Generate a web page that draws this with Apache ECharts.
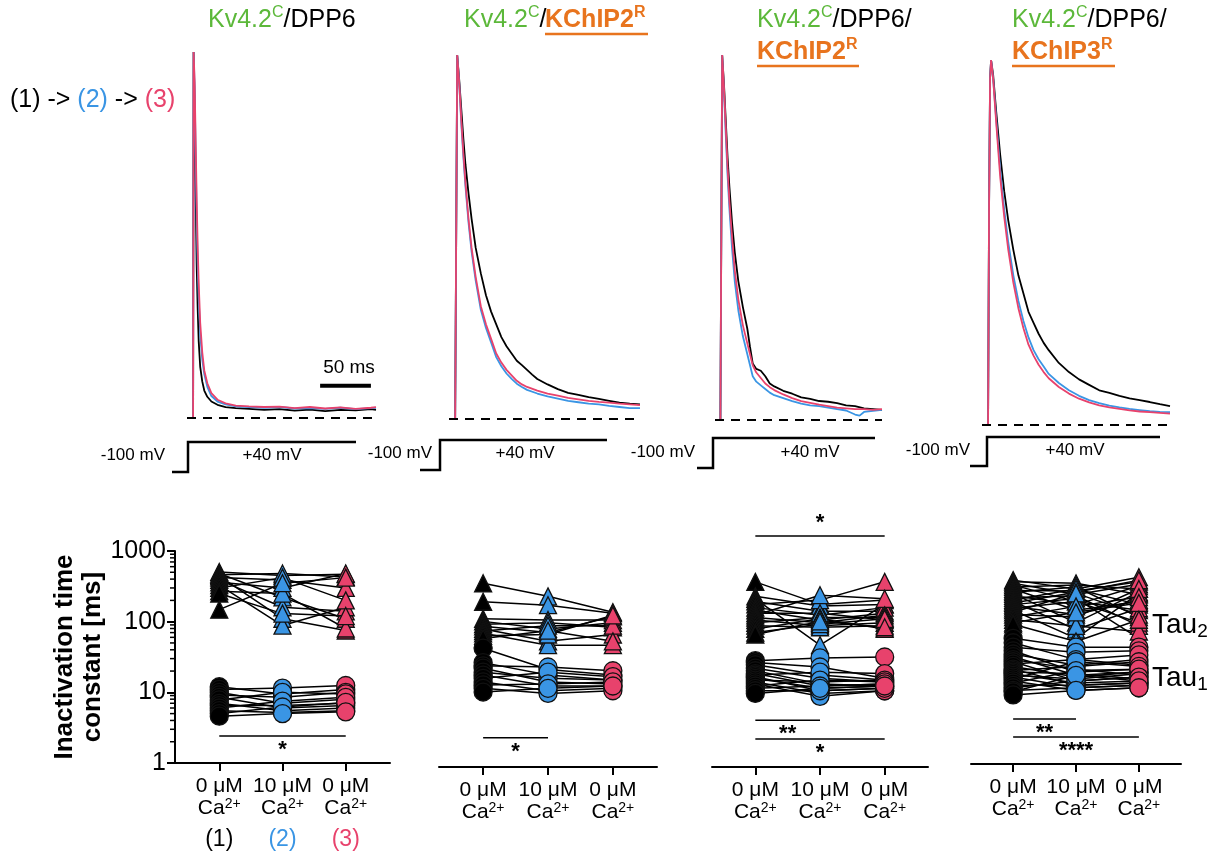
<!DOCTYPE html>
<html>
<head>
<meta charset="utf-8">
<script src="https://cdn.jsdelivr.net/npm/echarts@6/dist/echarts.min.js"></script>
<style>
html, body { margin: 0; padding: 0; background: #fff; }
#chart { width: 1211px; height: 854px; }
</style>
</head>
<body>
<div id="chart"></div>
<script>
// ---- current traces (time in ms, current normalised to peak) ----
var p1Black = [[0,0],[0.5,1],[1.5,0.86],[2.5,0.62],[3.5,0.42],[4.5,0.3],[5.5,0.21],[7,0.14],[9,0.1],[11,0.075],[14,0.058],[18,0.045],[24,0.036],[32,0.03],[42,0.027],[55,0.025],[70,0.022],[85,0.024],[100,0.02],[115,0.023],[130,0.019],[145,0.022],[160,0.021],[175,0.024],[180,0.022]];
var p1Blue = [[0,0],[0.5,1],[1.5,0.9],[2.5,0.72],[3.5,0.55],[4.5,0.42],[5.5,0.33],[7,0.23],[9,0.16],[11,0.12],[14,0.085],[18,0.06],[24,0.045],[32,0.037],[42,0.032],[55,0.03],[70,0.028],[85,0.03],[100,0.026],[115,0.027],[130,0.025],[145,0.028],[160,0.024],[175,0.027],[180,0.028]];
var p1Pink = [[0,0],[0.5,1],[1.5,0.92],[2.5,0.76],[3.5,0.6],[4.5,0.47],[5.5,0.37],[7,0.26],[9,0.18],[11,0.13],[14,0.095],[18,0.068],[24,0.05],[32,0.04],[42,0.034],[55,0.032],[70,0.03],[85,0.031],[100,0.027],[115,0.03],[130,0.026],[145,0.029],[160,0.025],[175,0.028],[180,0.03]];

var p2Black = [[0,0],[2,1],[4,0.93],[6,0.85],[8,0.77],[10,0.7],[13,0.62],[16,0.55],[20,0.47],[25,0.4],[30,0.34],[35,0.295],[40,0.26],[45,0.225],[50,0.2],[55,0.18],[60,0.16],[65,0.148],[70,0.135],[75,0.122],[80,0.11],[90,0.095],[100,0.082],[110,0.072],[120,0.066],[130,0.06],[140,0.055],[150,0.05],[160,0.045],[170,0.042],[180,0.04]];
var p2Blue = [[0,0],[2,1],[4,0.92],[6,0.81],[8,0.72],[10,0.64],[13,0.54],[16,0.46],[20,0.38],[25,0.3],[30,0.25],[35,0.21],[40,0.17],[45,0.145],[50,0.125],[55,0.11],[60,0.097],[65,0.088],[70,0.08],[80,0.07],[90,0.062],[100,0.056],[110,0.05],[120,0.046],[130,0.042],[140,0.04],[150,0.036],[160,0.033],[170,0.03],[180,0.03]];
var p2Pink = [[0,0],[2,1],[4,0.92],[6,0.82],[8,0.73],[10,0.65],[13,0.55],[16,0.47],[20,0.39],[25,0.31],[30,0.26],[35,0.22],[40,0.18],[45,0.155],[50,0.135],[55,0.12],[60,0.105],[65,0.095],[70,0.088],[80,0.078],[90,0.07],[100,0.064],[110,0.058],[120,0.054],[130,0.05],[140,0.047],[150,0.045],[160,0.042],[170,0.04],[180,0.038]];

var p3Black = [[0,0],[2,1],[4,0.92],[6,0.82],[8,0.72],[10,0.64],[13,0.54],[16,0.46],[20,0.38],[25,0.31],[30,0.25],[33,0.2],[36,0.155],[40,0.14],[45,0.135],[50,0.12],[55,0.1],[60,0.092],[70,0.08],[80,0.072],[90,0.062],[100,0.058],[110,0.052],[120,0.05],[130,0.046],[140,0.04],[150,0.038],[160,0.032],[170,0.03],[180,0.028]];
var p3Blue = [[0,0],[2,1],[4,0.9],[6,0.78],[8,0.67],[10,0.58],[13,0.47],[16,0.38],[20,0.3],[25,0.23],[30,0.18],[33,0.15],[36,0.12],[40,0.105],[45,0.095],[50,0.085],[55,0.075],[60,0.068],[70,0.06],[80,0.052],[90,0.045],[100,0.04],[110,0.038],[120,0.034],[130,0.03],[140,0.026],[150,0.015],[155,0.012],[160,0.022],[170,0.025],[180,0.028]];
var p3Pink = [[0,0],[2,1],[4,0.91],[6,0.8],[8,0.69],[10,0.6],[13,0.5],[16,0.41],[20,0.33],[25,0.26],[30,0.21],[33,0.18],[36,0.15],[40,0.13],[45,0.115],[50,0.1],[55,0.09],[60,0.082],[70,0.07],[80,0.06],[90,0.052],[100,0.047],[110,0.042],[120,0.038],[130,0.034],[140,0.032],[150,0.03],[160,0.03],[170,0.028],[180,0.03]];

var p4Black = [[0,0],[1,0.6],[2,0.95],[3,1],[5,0.96],[8,0.86],[12,0.74],[16,0.64],[20,0.56],[25,0.48],[30,0.41],[35,0.36],[40,0.31],[45,0.28],[50,0.25],[55,0.225],[60,0.205],[70,0.17],[80,0.145],[90,0.125],[100,0.11],[110,0.095],[120,0.088],[130,0.08],[140,0.073],[150,0.068],[160,0.063],[170,0.057],[180,0.052]];
var p4Blue = [[0,0],[1,0.6],[2,0.95],[3,1],[5,0.95],[8,0.84],[12,0.7],[16,0.59],[20,0.5],[25,0.41],[30,0.34],[35,0.285],[40,0.24],[45,0.205],[50,0.18],[55,0.16],[60,0.14],[70,0.115],[80,0.095],[90,0.08],[100,0.068],[110,0.06],[120,0.053],[130,0.048],[140,0.044],[150,0.041],[160,0.038],[170,0.036],[180,0.035]];
var p4Pink = [[0,0],[1,0.6],[2,0.95],[3,1],[5,0.95],[8,0.83],[12,0.68],[16,0.57],[20,0.48],[25,0.39],[30,0.32],[35,0.265],[40,0.22],[45,0.19],[50,0.165],[55,0.145],[60,0.128],[70,0.104],[80,0.086],[90,0.072],[100,0.062],[110,0.054],[120,0.048],[130,0.044],[140,0.04],[150,0.037],[160,0.035],[170,0.033],[180,0.031]];

var scaleBarMs = [125, 175];
var scaleBarLevel = 0.088;

// ---- inactivation time constants [ms], one entry per cell ----
// conditions: Ctrl = 0 uM Ca (1), Ca = 10 uM Ca (2), Wash = 0 uM Ca (3)
var p1Tau2Ctrl = [505, 480, 460, 440, 420, 390, 360, 330, 300, 270, 250, 148];
var p1Tau2Ca   = [450, 220, 480, 110, 390, 160, 300, 88, 420, 250, 130, 350];
var p1Tau2Wash = [470, 110, 430, 75, 300, 140, 480, 160, 200, 80, 120, 420];
var p1Tau1Ctrl = [12, 11, 10, 9.2, 8.5, 7.8, 7, 6.5, 6, 5.5, 5, 4.6];
var p1Tau1Ca   = [9.5, 11.5, 7, 8.5, 6, 10, 5.5, 6.5, 7.5, 5.2, 6.2, 5];
var p1Tau1Wash = [11, 12.5, 8, 10, 6.5, 9.5, 6, 7, 8.5, 5.5, 7.2, 5.3];

var p2Tau2Ctrl = [398, 218, 125, 115, 105, 98, 90, 84, 78, 72, 66];
var p2Tau2Ca   = [260, 195, 120, 90, 110, 80, 60, 100, 53, 75, 85];
var p2Tau2Wash = [155, 150, 120, 110, 95, 135, 75, 100, 53, 140, 60];
var p2Tau1Ctrl = [48, 30, 27, 25, 22, 20, 18, 16, 14.5, 13, 11.5];
var p2Tau1Ca   = [24, 20, 26, 16, 18, 14, 22, 12, 15, 11, 13];
var p2Tau1Wash = [20, 17, 23, 15, 17, 14, 19, 13, 16, 12, 14];

var p3Tau2Ctrl = [417, 260, 240, 220, 200, 180, 165, 150, 140, 130, 120, 110, 100, 90, 80, 75];
var p3Tau2Ca   = [200, 190, 53, 160, 230, 140, 120, 150, 270, 110, 100, 130, 95, 125, 105, 115];
var p3Tau2Wash = [230, 200, 200, 160, 417, 180, 150, 120, 240, 140, 110, 130, 100, 90, 125, 95];
var p3Tau1Ctrl = [32, 30, 28, 25, 23, 21, 20, 19, 18, 17, 16, 15, 14, 13, 12, 11];
var p3Tau1Ca   = [35, 26, 20, 18, 15, 14, 22, 12, 13, 16, 11, 10, 17, 14, 12, 13];
var p3Tau1Wash = [36, 18, 17, 16, 14, 15, 21, 13, 14, 17, 12, 12, 16, 15, 13, 14];

var p4Tau2Ctrl = [400, 380, 360, 340, 320, 300, 285, 270, 255, 240, 225, 210, 200, 190, 180, 170, 160, 150, 140, 130, 120, 110, 100, 95];
var p4Tau2Ca   = [300, 360, 250, 200, 340, 150, 280, 320, 100, 180, 240, 300, 80, 270, 220, 130, 200, 60, 260, 120, 170, 90, 140, 54];
var p4Tau2Wash = [440, 250, 350, 150, 300, 200, 380, 120, 270, 330, 90, 180, 160, 400, 60, 210, 100, 260, 130, 300, 230, 75, 190, 110];
var p4Tau1Ctrl = [60, 52, 45, 40, 36, 33, 30, 28, 26, 24, 22, 21, 20, 19, 18, 17, 16, 15, 14, 13, 12, 11, 10.5, 9.5];
var p4Tau1Ca   = [45, 30, 38, 20, 25, 18, 22, 15, 30, 17, 13, 24, 19, 14, 16, 12, 28, 11, 21, 13, 15, 12, 18, 11];
var p4Tau1Wash = [45, 25, 40, 22, 30, 20, 18, 17, 35, 20, 14, 28, 16, 15, 19, 13, 24, 12, 22, 14, 17, 13, 15, 12];

var condLabels = ['0 μM', '10 μM', '0 μM'];
var stepLabels = ['(1)', '(2)', '(3)'];
var yTickLabels = [1, 10, 100, 1000];

// significance bars: [from condition, to condition, level in ms]
var p1Sig = [[0, 2, 2.41]];
var p1SigText = ['*'];
var p2Sig = [[0, 1, 2.6]];
var p2SigText = ['*'];
var p3Sig = [[0, 2, 1860], [0, 1, 4.6], [0, 2, 2.49]];
var p3SigText = ['*', '**', '*'];
var p3SigAbove = [true, false, false];
var p4Sig = [[0, 1, 4.33], [0, 2, 2.41]];
var p4SigText = ['**', '****'];

// ---- styling ----
var FONT = '"Liberation Sans", Arial, sans-serif';
var BLACK = '#000000', BLUE = '#3a95e4', PINK = '#e8426c', GREEN = '#5cb83a', ORANGE = '#e8741e';
var condColors = [BLACK, BLUE, PINK];

var chart = echarts.init(document.getElementById('chart'));

var topGrids = [
	{ left: 187, top: 52, width: 189, height: 366 },
	{ left: 449, top: 55, width: 191, height: 364 },
	{ left: 715, top: 55, width: 167, height: 365 },
	{ left: 982, top: 60, width: 188, height: 365 }
];
var bottomGrids = [
	{ left: 175, top: 551, width: 215, height: 212, min: -0.7, max: 2.7 },
	{ left: 439, top: 555, width: 218, height: 212, min: -0.68, max: 2.68 },
	{ left: 712, top: 555, width: 216, height: 212, min: -0.67, max: 2.67 },
	{ left: 971, top: 552, width: 210, height: 212, min: -0.67, max: 2.67 }
];

var grids = [], xAxes = [], yAxes = [], series = [];

topGrids.forEach(function (g) {
	grids.push({ left: g.left, top: g.top, width: g.width, height: g.height });
	xAxes.push({ type: 'value', gridIndex: grids.length - 1, min: -6, max: 180, show: false });
	yAxes.push({ type: 'value', gridIndex: grids.length - 1, min: 0, max: 1, show: false });
});

var supRich = {
	a: { fontFamily: FONT, fontSize: 21, lineHeight: 22, color: '#000' },
	b: { fontFamily: FONT, fontSize: 21, lineHeight: 22, color: '#000' },
	s: { fontFamily: FONT, fontSize: 14, lineHeight: 22, color: '#000', verticalAlign: 'top' },
	n0: { fontFamily: FONT, fontSize: 23, lineHeight: 32, color: BLACK, verticalAlign: 'bottom' },
	n1: { fontFamily: FONT, fontSize: 23, lineHeight: 32, color: BLUE, verticalAlign: 'bottom' },
	n2: { fontFamily: FONT, fontSize: 23, lineHeight: 32, color: PINK, verticalAlign: 'bottom' }
};

bottomGrids.forEach(function (g, i) {
	grids.push({ left: g.left, top: g.top, width: g.width, height: g.height });
	var gi = grids.length - 1;
	xAxes.push({
		type: 'value', gridIndex: gi, min: g.min, max: g.max,
		splitLine: { show: false },
		axisLine: { show: true, onZero: false, lineStyle: { color: '#000', width: 2 } },
		axisTick: { show: true, customValues: [0, 1, 2], length: 8, lineStyle: { color: '#000', width: 2 } },
		axisLabel: {
			customValues: [0, 1, 2], margin: 12,
			formatter: function (v) {
				var k = Math.round(v);
				var s = '{a|' + condLabels[k] + '}\n{b|Ca}{s|2+}';
				if (i === 0) s += '\n{n' + k + '|' + stepLabels[k] + '}';
				return s;
			},
			rich: supRich
		}
	});
	if (i === 0) {
		yAxes.push({
			type: 'log', logBase: 10, gridIndex: gi, min: 1, max: 1000,
			name: 'Inactivation time\nconstant [ms]', nameLocation: 'middle', nameRotate: 90, nameGap: 53,
			nameTextStyle: { fontFamily: FONT, fontSize: 26, fontWeight: 'bold', color: '#000', lineHeight: 28 },
			splitLine: { show: false },
			axisLine: { show: true, onZero: false, lineStyle: { color: '#000', width: 2 } },
			axisTick: { show: true, length: 8, lineStyle: { color: '#000', width: 2 } },
			axisLabel: {
				margin: 9, fontFamily: FONT, fontSize: 25, color: '#000',
				formatter: function (v) {
					var r = Math.round(v);
					return yTickLabels.indexOf(r) >= 0 ? String(r) : '';
				}
			}
		});
	} else {
		yAxes.push({ type: 'log', logBase: 10, gridIndex: gi, min: 1, max: 1000, show: false });
	}
});

// top traces
var traces = [[p1Black, p1Blue, p1Pink], [p2Black, p2Blue, p2Pink], [p3Black, p3Blue, p3Pink], [p4Black, p4Blue, p4Pink]];
traces.forEach(function (set, i) {
	set.forEach(function (d, j) {
		var s = {
			type: 'line', xAxisIndex: i, yAxisIndex: i, data: d,
			symbol: 'none', silent: true, z: 2 + j,
			lineStyle: { color: condColors[j], width: 1.8 }
		};
		if (j === 0) {
			s.markLine = {
				silent: true, symbol: 'none', label: { show: false },
				lineStyle: { color: '#000', width: 2, type: [9, 7] },
				data: [{ yAxis: 0 }]
			};
		}
		series.push(s);
	});
});

// 50 ms scale bar
series.push({
	type: 'line', xAxisIndex: 0, yAxisIndex: 0, symbol: 'none', silent: true,
	data: scaleBarMs.map(function (t) { return [t, scaleBarLevel]; }),
	lineStyle: { color: '#000', width: 4 }
});

// paired tau plots
var tauSets = [
	{ tau1: [p1Tau1Ctrl, p1Tau1Ca, p1Tau1Wash], tau2: [p1Tau2Ctrl, p1Tau2Ca, p1Tau2Wash] },
	{ tau1: [p2Tau1Ctrl, p2Tau1Ca, p2Tau1Wash], tau2: [p2Tau2Ctrl, p2Tau2Ca, p2Tau2Wash] },
	{ tau1: [p3Tau1Ctrl, p3Tau1Ca, p3Tau1Wash], tau2: [p3Tau2Ctrl, p3Tau2Ca, p3Tau2Wash] },
	{ tau1: [p4Tau1Ctrl, p4Tau1Ca, p4Tau1Wash], tau2: [p4Tau2Ctrl, p4Tau2Ca, p4Tau2Wash] }
];
tauSets.forEach(function (set, p) {
	var ai = 4 + p;
	['tau2', 'tau1'].forEach(function (key) {
		var c = set[key];
		for (var n = 0; n < c[0].length; n++) {
			series.push({
				type: 'line', xAxisIndex: ai, yAxisIndex: ai, symbol: 'none', silent: true, z: 2,
				data: [[0, c[0][n]], [1, c[1][n]], [2, c[2][n]]],
				lineStyle: { color: '#000', width: 1.5 }
			});
		}
	});
	['tau2', 'tau1'].forEach(function (key) {
		var c = set[key];
		c.forEach(function (arr, k) {
			series.push({
				type: 'scatter', xAxisIndex: ai, yAxisIndex: ai, silent: true, z: 3,
				symbol: key === 'tau2' ? 'triangle' : 'circle',
				symbolSize: key === 'tau2' ? 17 : 18,
				data: arr.map(function (v) { return [k, v]; }),
				itemStyle: { color: condColors[k], borderColor: '#111', borderWidth: 1.3, opacity: 1 }
			});
		});
	});
});

// significance bars
function sigSeries(ai, bars, texts, above) {
	return {
		type: 'custom', xAxisIndex: ai, yAxisIndex: ai, silent: true, z: 4,
		data: bars, encode: { x: [0, 1], y: 2 },
		renderItem: function (params, api) {
			var a = api.coord([api.value(0), api.value(2)]);
			var b = api.coord([api.value(1), api.value(2)]);
			var up = above && above[params.dataIndex];
			return {
				type: 'group',
				children: [
					{ type: 'line', shape: { x1: a[0], y1: a[1], x2: b[0], y2: b[1] }, style: { stroke: '#000', lineWidth: 1.5 } },
					{ type: 'text', style: {
						text: texts[params.dataIndex], x: (a[0] + b[0]) / 2, y: up ? a[1] - 2 : a[1] + 3,
						align: 'center', verticalAlign: up ? 'bottom' : 'top',
						font: 'bold 22px ' + FONT, fill: '#000'
					} }
				]
			};
		}
	};
}
series.push(sigSeries(4, p1Sig, p1SigText));
series.push(sigSeries(5, p2Sig, p2SigText));
series.push(sigSeries(6, p3Sig, p3SigText, p3SigAbove));
series.push(sigSeries(7, p4Sig, p4SigText));

// log minor ticks on the shared y axis
var minorTicks = [];
[1, 10, 100].forEach(function (d) { for (var m = 2; m <= 9; m++) minorTicks.push([bottomGrids[0].min, m * d]); });
series.push({
	type: 'custom', xAxisIndex: 4, yAxisIndex: 4, silent: true, z: 4,
	data: minorTicks, encode: { x: 0, y: 1 },
	renderItem: function (params, api) {
		var pt = api.coord([api.value(0), api.value(1)]);
		return { type: 'line', shape: { x1: pt[0] - 5, y1: pt[1], x2: pt[0], y2: pt[1] }, style: { stroke: '#000', lineWidth: 1.5 } };
	}
});

// titles, protocol sketches and other labels (zrender rich text uses fill)
var titleRich = {
	g: { fontFamily: FONT, fontSize: 25, fill: GREEN, lineHeight: 30 },
	gs: { fontFamily: FONT, fontSize: 16, fill: GREEN, lineHeight: 30, verticalAlign: 'top' },
	k: { fontFamily: FONT, fontSize: 25, fill: '#000', lineHeight: 30 },
	o: { fontFamily: FONT, fontSize: 25, fontWeight: 'bold', fill: ORANGE, lineHeight: 30 },
	os: { fontFamily: FONT, fontSize: 16, fontWeight: 'bold', fill: ORANGE, lineHeight: 30, verticalAlign: 'top' },
	b: { fontFamily: FONT, fontSize: 25, fill: BLUE, lineHeight: 30 },
	p: { fontFamily: FONT, fontSize: 25, fill: PINK, lineHeight: 30 },
	t: { fontFamily: FONT, fontSize: 25, fill: '#000', lineHeight: 30 },
	tau: { fontFamily: FONT, fontSize: 28, fill: '#000', lineHeight: 32 },
	ts: { fontFamily: FONT, fontSize: 19, fill: '#000', lineHeight: 32, verticalAlign: 'bottom' }
};
function richText(x, y, text) {
	return { type: 'text', x: x, y: y, silent: true, style: { text: text, rich: titleRich, verticalAlign: 'middle' } };
}
function plainText(x, y, text, align, size) {
	return { type: 'text', x: x, y: y, silent: true, style: { text: text, align: align, verticalAlign: 'middle', font: size + 'px ' + FONT, fill: '#000' } };
}
function hline(x1, x2, y, color, w) {
	return { type: 'line', silent: true, shape: { x1: x1, y1: y, x2: x2, y2: y }, style: { stroke: color, lineWidth: w } };
}

var protocols = [
	{ pts: [[172, 472], [188, 472], [188, 442], [356, 442]], lo: [165, 455], hi: [272, 455] },
	{ pts: [[420, 470], [440, 470], [440, 440], [607, 440]], lo: [432, 453], hi: [525, 453] },
	{ pts: [[697, 468], [713, 468], [713, 438], [875, 438]], lo: [695, 452], hi: [810, 452] },
	{ pts: [[970, 466], [987, 466], [987, 437], [1160, 437]], lo: [970, 450], hi: [1075, 450] }
];

var graphics = [
	richText(208, 20, '{g|Kv4.2}{gs|C}{k|/DPP6}'),
	richText(464, 20, '{g|Kv4.2}{gs|C}{k|/}'),
	richText(545, 20, '{o|KChIP2}{os|R}'),
	hline(545, 648, 34, ORANGE, 2.5),
	richText(757, 20, '{g|Kv4.2}{gs|C}{k|/DPP6/}'),
	richText(757, 52, '{o|KChIP2}{os|R}'),
	hline(757, 859, 66, ORANGE, 2.5),
	richText(1012, 20, '{g|Kv4.2}{gs|C}{k|/DPP6/}'),
	richText(1012, 52, '{o|KChIP3}{os|R}'),
	hline(1012, 1115, 66, ORANGE, 2.5),
	richText(10, 100, '{t|(1) -> }{b|(2)}{t| -> }{p|(3)}'),
	plainText(349, 368, '50 ms', 'center', 19),
	richText(1152, 625, '{tau|Tau}{ts|2}'),
	richText(1152, 678, '{tau|Tau}{ts|1}')
];
protocols.forEach(function (p) {
	graphics.push({ type: 'polyline', silent: true, shape: { points: p.pts }, style: { stroke: '#000', lineWidth: 2.5, fill: null } });
	graphics.push(plainText(p.lo[0], p.lo[1], '-100 mV', 'right', 17));
	graphics.push(plainText(p.hi[0], p.hi[1], '+40 mV', 'center', 17));
});

chart.setOption({
	animation: false,
	backgroundColor: '#ffffff',
	grid: grids,
	xAxis: xAxes,
	yAxis: yAxes,
	series: series,
	graphic: graphics
});
</script>
</body>
</html>
